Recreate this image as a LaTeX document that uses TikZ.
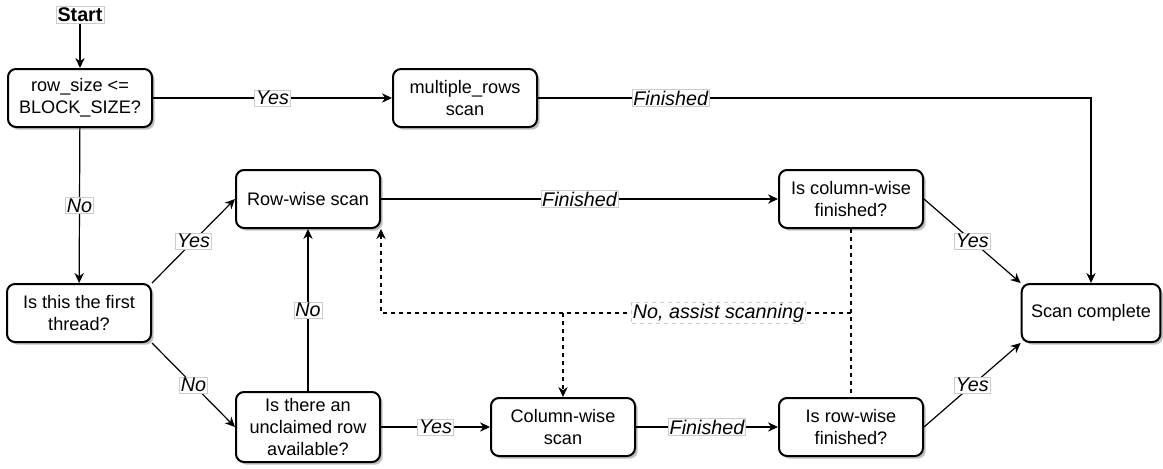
\documentclass[tikz,border=0pt]{standalone}
\usepackage{fontspec}
\setmainfont{Liberation Sans}
\usetikzlibrary{arrows.meta,shadows}

\newcommand{\basefont}{\fontsize{13.6}{16.5}\selectfont}
\newcommand{\tagfont}{\fontsize{14.8}{17}\selectfont}

\tikzset{
  block/.style={draw, line width=1.5pt, rounded corners=6pt, fill=white, align=center,
    minimum width=108pt, minimum height=43.5pt, inner sep=2pt, font=\basefont,
    drop shadow={shadow xshift=2pt, shadow yshift=-2pt, fill=black, opacity=0.25}},
  tag/.style={fill=white, draw=black!20, line width=0.4pt, inner sep=1pt, font=\tagfont\itshape},
  flow/.style={line width=0.9pt, -{Stealth[length=7.5pt,width=7pt]}},
  dashflow/.style={flow, dash pattern=on 3pt off 3pt},
}

\begin{document}
\begin{tikzpicture}[x=0.75pt, y=-0.75pt]

	\useasboundingbox (0,0) rectangle (1163,468);

	% Boxes
	\node[draw=black!20, fill=white, inner sep=1pt, font=\tagfont\bfseries] (start) at (80,15) {Start};
	\node[block] (size) at (80,98) {row\_size <=\\BLOCK\_SIZE?};
	\node[block] (multi) at (465,98) {multiple\_rows\\scan};
	\node[block] (rowscan) at (308,199) {Row-wise scan};
	\node[block] (colfin) at (851,199) {Is column-wise\\finished?};
	\node[block] (first) at (79,313) {Is this the first\\thread?};
	\node[block, minimum width=104pt] (done) at (1091,313) {Scan complete};
	\node[block, minimum height=52.5pt] (unclaimed) at (308,427) {Is there an\\unclaimed row\\available?};
	\node[block] (colscan) at (563,427) {Column-wise\\scan};
	\node[block] (rowfin) at (851,427) {Is row-wise\\finished?};

	% Solid edges
	\draw[flow] (start) -- (size);
	\draw[flow] (size) -- node[tag] {Yes} (multi);
	\draw[flow] (multi.east) -| node[tag, pos=0.12] {Finished} (done.north);
	\draw[flow] (size) -- node[tag] {No} (first);
	\draw[flow] (first.north east) -- node[tag] {Yes} (rowscan.west);
	\draw[flow] (first.south east) -- node[tag] {No} (unclaimed.west);
	\draw[flow] (unclaimed) -- node[tag] {No} (rowscan);
	\draw[flow] (rowscan) -- node[tag] {Finished} (colfin);
	\draw[flow] (unclaimed) -- node[tag] {Yes} (colscan);
	\draw[flow] (colscan) -- node[tag] {Finished} (rowfin);
	\draw[flow] (colfin.east) -- node[tag] {Yes} (done.north west);
	\draw[flow] (rowfin.east) -- node[tag] {Yes} (done.south west);

	% Dashed edges
	\draw[line width=0.9pt, dash pattern=on 3pt off 3pt] (colfin) -- (rowfin);
	\draw[dashflow] (colfin.south |- first) -| node[tag, pos=0.141] {No, assist scanning} (rowscan.south east);
	\draw[dashflow] (colscan.north |- first) -- (colscan.north);

\end{tikzpicture}
\end{document}
